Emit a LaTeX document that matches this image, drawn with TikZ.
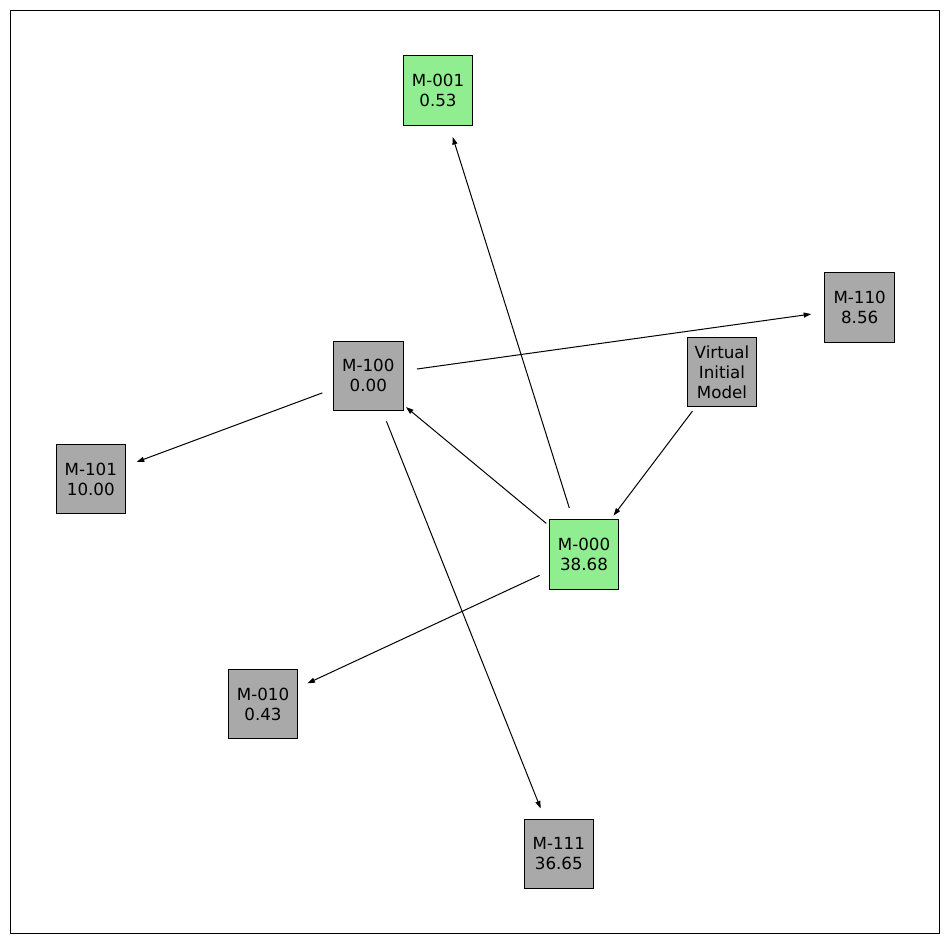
\documentclass[tikz,border=0pt]{standalone}
\usepackage{fontspec}
\setmainfont{DejaVu Sans}
\usetikzlibrary{arrows.meta}
\definecolor{nodegreen}{HTML}{90EE90}
\definecolor{nodegray}{HTML}{A9A9A9}
\begin{document}
\begin{tikzpicture}[x=1pt,y=-1pt,
  mbox/.style={draw=black,line width=1pt,minimum width=69.5pt,minimum height=69.5pt,inner sep=0pt,align=center,font=\fontsize{16.7pt}{20pt}\selectfont},
  greenbox/.style={mbox,fill=nodegreen},
  graybox/.style={mbox,fill=nodegray},
  edge/.style={line width=1pt,-{Triangle[length=7.5pt,width=5pt]},shorten <=49pt,shorten >=49pt}]
\useasboundingbox (0,0) rectangle (950,944);
\draw[line width=1pt] (10.5,10.5) rectangle (939.5,933.5);
\node[greenbox] (m001) at (438,90.3) {M-001\\0.53};
\node[graybox] (m110) at (859.7,307.3) {M-110\\8.56};
\node[graybox] (m100) at (368.3,375.8) {M-100\\0.00};
\node[graybox] (vim) at (722,372) {Virtual\\Initial\\Model};
\node[graybox] (m101) at (90.8,479) {M-101\\10.00};
\node[greenbox] (m000) at (584,554.7) {M-000\\38.68};
\node[graybox] (m010) at (263,704) {M-010\\0.43};
\node[graybox] (m111) at (558.8,854) {M-111\\36.65};
\draw[edge] (m000.center) -- (m001.center);
\draw[edge] (m000.center) -- (m100.center);
\draw[edge] (m000.center) -- (m010.center);
\draw[edge] (vim.center) -- (m000.center);
\draw[edge] (m100.center) -- (m110.center);
\draw[edge] (m100.center) -- (m101.center);
\draw[edge] (m100.center) -- (m111.center);
\end{tikzpicture}
\end{document}
